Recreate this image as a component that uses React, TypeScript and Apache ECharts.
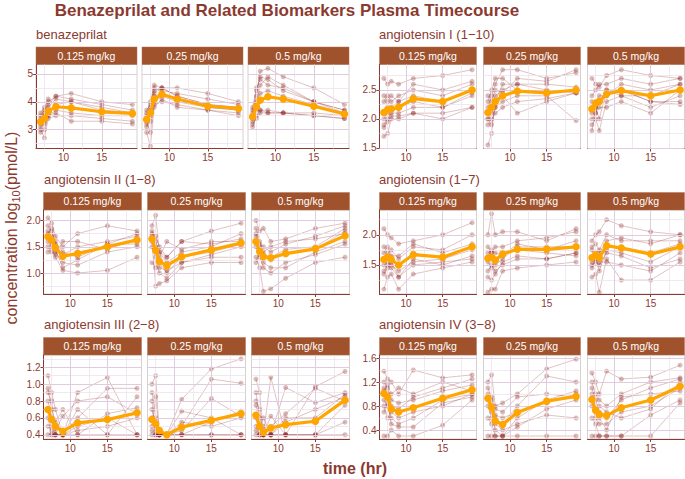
import React, { useEffect, useRef } from "react";
import * as echarts from "echarts";

// ---------- data ----------
const TIMES = [7, 7.5, 8, 9, 11, 15, 19];
const DOSES = ["0.125 mg/kg", "0.25 mg/kg", "0.5 mg/kg"];
const X_TICKS = [10, 15];
const X_MINOR = [7.5, 12.5, 17.5];
const X_MIN = 6.4;
const X_MAX = 19.6;

const TITLE = "Benazeprilat and Related Biomarkers Plasma Timecourse";
const X_LABEL = "time (hr)";

// benazeprilat
const benaz_yTicks = [3, 4, 5];
const benaz_yMinor = [2.5, 3.5, 4.5];
const benaz_mean_0125 = [3.28, 3.4, 3.66, 3.82, 3.78, 3.64, 3.58];
const benaz_mean_025 = [3.36, 3.6, 4.1, 4.27, 4.1, 3.84, 3.76];
const benaz_mean_05 = [3.46, 3.82, 4.06, 4.18, 4.1, 3.84, 3.56];
const benaz_ind_0125 = [
  [3.1, 3.2, 3.5, 3.7, 3.6, 3.5, 3.5],
  [3.4, 3.6, 3.9, 4.2, 4.3, 4.0, 3.9],
  [3.3, 3.5, 3.8, 4.1, 4.0, 3.8, 3.6],
  [3.0, 2.7, 3.4, 3.5, 3.5, 3.4, 3.3],
  [3.5, 3.7, 4.0, 4.2, 4.1, 3.9, 3.7],
  [3.2, 3.3, 3.6, 3.8, 3.8, 3.6, 3.6],
  [2.9, 3.0, 3.5, 3.6, 3.3, 3.3, 3.2],
  [3.6, 3.8, 4.1, 3.9, 4.0, 3.7, 3.6],
];
const benaz_ind_025 = [
  [3.1, 3.5, 4.3, 4.5, 4.2, 3.9, 3.8],
  [3.5, 3.8, 4.5, 4.4, 4.3, 4.1, 3.9],
  [3.3, 2.9, 4.0, 4.2, 4.0, 3.8, 3.7],
  [2.9, 2.4, 3.8, 4.1, 3.8, 3.7, 3.6],
  [3.6, 4.0, 4.6, 4.5, 4.5, 4.3, 4.0],
  [3.4, 3.7, 4.2, 4.3, 4.1, 3.8, 3.7],
  [3.2, 3.3, 3.9, 4.0, 3.9, 3.7, 3.5],
  [3.7, 3.9, 4.4, 4.5, 4.2, 3.9, 3.8],
];
const benaz_ind_05 = [
  [3.1, 3.5, 3.7, 3.6, 3.6, 3.5, 3.4],
  [3.6, 4.2, 5.1, 5.2, 4.9, 4.5, 3.9],
  [3.4, 3.9, 4.6, 4.9, 4.6, 4.0, 3.6],
  [3.8, 4.5, 4.8, 4.6, 4.5, 4.0, 3.7],
  [3.2, 3.4, 3.6, 3.6, 3.6, 3.5, 3.4],
  [3.5, 4.0, 4.3, 4.4, 4.2, 3.9, 3.6],
  [3.3, 3.7, 3.7, 3.7, 3.6, 3.6, 3.5],
  [3.7, 4.4, 4.9, 4.8, 4.4, 4.0, 3.7],
];

// angiotensin I (1-10)
const ang1_yTicks = [1.5, 2.0, 2.5];
const ang1_yMinor = [1.75, 2.25, 2.75];
const ang1_mean_0125 = [2.11, 2.16, 2.17, 2.2, 2.35, 2.3, 2.5];
const ang1_mean_025 = [2.11, 2.2, 2.3, 2.4, 2.48, 2.45, 2.5];
const ang1_mean_05 = [2.17, 2.27, 2.3, 2.43, 2.49, 2.4, 2.5];
const ang1_ind_0125 = [
  [2.7, 2.6, 2.65, 2.6, 2.7, 2.75, 2.85],
  [1.7, 1.75, 2.0, 2.0, 2.1, 2.0, 2.2],
  [2.1, 2.2, 2.2, 2.3, 2.4, 2.3, 2.5],
  [1.9, 2.0, 2.1, 2.1, 2.2, 2.2, 2.4],
  [2.3, 2.4, 2.3, 2.4, 2.5, 2.4, 2.6],
  [2.0, 2.1, 2.15, 2.2, 2.3, 2.2, 2.45],
  [2.4, 2.3, 2.4, 2.3, 2.6, 2.5, 2.65],
  [1.85, 1.95, 2.05, 2.05, 2.1, 2.1, 2.2],
];
const ang1_ind_025 = [
  [1.55, 1.75, 2.3, 2.6, 2.6, 2.5, 2.45],
  [2.2, 2.4, 2.6, 2.85, 2.85, 2.7, 2.8],
  [2.0, 2.1, 2.2, 2.3, 2.4, 2.4, 1.97],
  [2.1, 2.2, 2.4, 2.5, 2.6, 2.6, 2.55],
  [1.9, 2.0, 2.1, 2.2, 2.3, 2.35, 2.45],
  [2.3, 2.5, 2.7, 2.7, 2.5, 2.45, 2.5],
  [2.0, 1.9, 2.2, 2.4, 2.1, 2.3, 2.45],
  [2.4, 2.3, 2.5, 2.45, 2.7, 2.65, 2.85],
];
const ang1_ind_05 = [
  [2.7, 2.6, 2.55, 2.75, 2.85, 2.75, 2.7],
  [1.9, 2.0, 1.8, 2.3, 2.4, 2.2, 2.4],
  [2.2, 2.3, 2.4, 2.4, 2.6, 2.5, 2.6],
  [2.1, 2.2, 2.0, 2.5, 2.5, 2.3, 2.25],
  [2.4, 2.5, 2.6, 2.6, 2.7, 2.6, 2.7],
  [2.0, 2.1, 2.2, 2.2, 2.3, 2.1, 2.5],
  [2.3, 2.2, 2.3, 2.5, 2.4, 2.4, 2.6],
  [1.8, 2.1, 2.3, 2.4, 2.5, 2.3, 2.3],
];

// angiotensin II (1-8)
const ang2_yTicks = [1.0, 1.5, 2.0];
const ang2_yMinor = [0.75, 1.25, 1.75];
const ang2_mean_0125 = [1.69, 1.63, 1.48, 1.32, 1.37, 1.5, 1.63];
const ang2_mean_025 = [1.65, 1.43, 1.22, 1.14, 1.31, 1.44, 1.57];
const ang2_mean_05 = [1.6, 1.41, 1.31, 1.29, 1.37, 1.46, 1.71];
const ang2_ind_0125 = [
  [2.05, 1.95, 1.7, 1.5, 1.75, 1.9, 1.8],
  [1.4, 1.5, 1.3, 1.05, 1.0, 1.05, 1.3],
  [1.7, 1.6, 1.5, 1.3, 1.4, 1.5, 1.6],
  [1.8, 1.7, 1.6, 1.4, 1.3, 1.55, 1.75],
  [1.6, 1.55, 1.4, 1.2, 1.15, 1.4, 1.5],
  [1.9, 1.8, 1.55, 1.35, 1.5, 1.6, 1.7],
  [1.5, 1.4, 1.35, 1.6, 1.6, 1.45, 1.65],
  [1.75, 1.85, 1.45, 1.1, 1.25, 1.55, 1.55],
];
const ang2_ind_025 = [
  [1.9, 2.1, 1.4, 1.3, 1.6, 1.8, 1.95],
  [1.6, 0.75, 0.8, 0.85, 1.1, 1.2, 1.2],
  [1.7, 1.5, 1.2, 1.0, 1.3, 1.4, 1.55],
  [1.5, 1.3, 1.0, 0.9, 1.2, 1.3, 1.3],
  [1.8, 1.6, 1.4, 1.2, 1.4, 1.5, 1.75],
  [1.2, 1.1, 1.3, 1.6, 1.45, 1.6, 1.6],
  [1.65, 1.45, 1.1, 1.05, 1.2, 1.35, 1.5],
  [1.75, 1.7, 1.5, 1.3, 1.6, 1.55, 1.65],
];
const ang2_ind_05 = [
  [2.0, 1.8, 1.85, 1.6, 1.65, 1.85, 1.95],
  [1.3, 1.1, 0.65, 0.7, 0.9, 1.2, 1.3],
  [1.6, 1.4, 1.3, 1.25, 1.35, 1.45, 1.8],
  [1.7, 1.5, 1.2, 1.1, 1.1, 1.4, 1.6],
  [1.5, 1.3, 1.4, 1.5, 1.6, 1.65, 1.75],
  [1.85, 1.6, 1.35, 1.3, 1.45, 1.5, 1.85],
  [1.2, 1.35, 1.1, 1.0, 1.2, 1.35, 1.55],
  [1.75, 1.55, 1.5, 1.4, 1.55, 1.7, 1.9],
];

// angiotensin (1-7)
const ang17_yTicks = [1.5, 2.0];
const ang17_yMinor = [1.25, 1.75, 2.25];
const ang17_mean_0125 = [1.59, 1.63, 1.59, 1.5, 1.67, 1.63, 1.8];
const ang17_mean_025 = [1.61, 1.63, 1.58, 1.68, 1.76, 1.76, 1.8];
const ang17_mean_05 = [1.62, 1.67, 1.62, 1.82, 1.78, 1.68, 1.8];
const ang17_ind_0125 = [
  [2.1, 2.0, 1.95, 1.85, 1.9, 2.0, 2.2],
  [1.1, 1.3, 1.35, 1.1, 1.35, 1.45, 1.55],
  [1.6, 1.65, 1.6, 1.5, 1.7, 1.6, 1.8],
  [1.4, 1.5, 1.45, 1.3, 1.6, 1.5, 1.65],
  [1.8, 1.7, 1.75, 1.6, 1.8, 1.75, 2.0],
  [1.5, 1.55, 1.5, 1.4, 1.55, 1.6, 1.75],
  [1.7, 1.8, 1.65, 1.65, 1.85, 1.7, 1.85],
  [1.35, 1.45, 1.55, 1.3, 1.5, 1.55, 1.6],
];
const ang17_ind_025 = [
  [2.0, 2.35, 2.0, 2.05, 2.05, 1.9, 2.1],
  [1.05, 1.1, 1.1, 1.4, 1.45, 1.5, 1.55],
  [1.6, 1.7, 1.5, 1.6, 1.8, 1.8, 1.8],
  [1.4, 1.5, 1.4, 1.5, 1.6, 1.6, 1.7],
  [1.8, 1.7, 1.8, 1.8, 1.9, 1.95, 2.05],
  [1.55, 1.45, 1.6, 1.7, 1.75, 1.7, 1.65],
  [1.7, 1.75, 1.7, 1.65, 1.85, 1.75, 1.9],
  [1.3, 1.25, 1.35, 1.55, 1.65, 1.6, 1.7],
];
const ang17_ind_05 = [
  [1.9, 2.0, 2.05, 2.25, 2.15, 2.05, 2.0],
  [1.3, 1.35, 1.05, 1.6, 1.25, 1.25, 1.55],
  [1.6, 1.7, 1.6, 1.8, 1.8, 1.7, 1.85],
  [1.5, 1.55, 1.5, 1.7, 1.65, 1.45, 1.6],
  [1.8, 1.85, 1.75, 2.0, 1.9, 1.9, 1.9],
  [1.45, 1.6, 1.55, 1.55, 1.5, 1.4, 1.7],
  [1.75, 1.6, 1.7, 1.9, 1.95, 1.85, 2.0],
  [1.55, 1.65, 1.4, 1.75, 1.7, 1.55, 1.8],
];

// angiotensin III (2-8)
const ang3_yTicks = [0.4, 0.6, 0.8, 1.0, 1.2];
const ang3_yMinor = [0.5, 0.7, 0.9, 1.1, 1.3];
const ang3_mean_0125 = [0.7, 0.58, 0.5, 0.44, 0.54, 0.58, 0.66];
const ang3_mean_025 = [0.58, 0.53, 0.45, 0.4, 0.49, 0.57, 0.65];
const ang3_mean_05 = [0.63, 0.5, 0.43, 0.48, 0.52, 0.56, 0.81];
const ang3_ind_0125 = [
  [1.1, 0.9, 0.7, 0.4, 0.9, 1.08, 0.4],
  [0.4, 0.4, 0.4, 0.4, 0.4, 0.4, 0.4],
  [0.9, 0.8, 0.4, 0.4, 0.6, 0.95, 0.95],
  [0.8, 0.6, 0.5, 0.4, 0.7, 0.4, 0.85],
  [0.95, 0.7, 0.55, 0.7, 0.4, 0.65, 0.72],
  [0.6, 0.4, 0.4, 0.4, 0.5, 0.6, 0.4],
  [0.7, 0.5, 0.45, 0.62, 0.8, 0.85, 0.65],
  [0.5, 0.45, 0.4, 0.4, 0.45, 0.5, 0.6],
];
const ang3_ind_025 = [
  [1.0, 1.1, 0.4, 0.4, 0.82, 1.18, 1.3],
  [0.4, 0.4, 0.4, 0.4, 0.4, 0.4, 0.4],
  [0.9, 0.6, 0.45, 0.4, 0.5, 1.06, 1.01],
  [0.6, 0.5, 0.4, 0.4, 0.68, 0.6, 0.4],
  [0.7, 0.45, 0.4, 0.4, 0.4, 0.55, 0.68],
  [0.5, 0.85, 0.4, 0.4, 0.45, 0.83, 0.62],
  [0.8, 0.4, 0.4, 0.4, 0.55, 0.5, 0.6],
  [0.45, 0.4, 0.4, 0.4, 0.4, 0.4, 0.4],
];
const ang3_ind_05 = [
  [1.06, 0.9, 0.4, 1.08, 0.4, 0.97, 1.15],
  [0.4, 0.4, 0.4, 0.4, 0.4, 0.4, 0.4],
  [0.9, 0.6, 0.4, 0.4, 0.96, 0.78, 0.9],
  [0.75, 0.5, 0.6, 0.4, 0.55, 0.7, 0.85],
  [0.6, 0.4, 0.4, 0.62, 0.4, 0.4, 0.55],
  [0.8, 0.7, 0.4, 0.5, 0.65, 0.95, 0.8],
  [0.5, 0.4, 0.5, 0.4, 0.4, 0.4, 0.75],
  [0.45, 0.4, 0.4, 0.4, 0.6, 0.6, 0.88],
];

// angiotensin IV (3-8)
const ang4_yTicks = [0.4, 0.8, 1.2, 1.6];
const ang4_yMinor = [0.6, 1.0, 1.4];
const ang4_mean_0125 = [1.01, 0.95, 0.75, 0.7, 0.77, 0.93, 1.07];
const ang4_mean_025 = [0.93, 0.78, 0.55, 0.49, 0.69, 0.88, 0.96];
const ang4_mean_05 = [0.91, 0.73, 0.66, 0.64, 0.77, 0.9, 1.13];
const ang4_ind_0125 = [
  [1.38, 1.25, 1.2, 1.0, 1.4, 1.27, 1.32],
  [0.3, 0.3, 0.4, 0.3, 0.3, 0.48, 0.9],
  [1.1, 1.0, 0.8, 0.75, 0.95, 1.1, 1.25],
  [0.9, 0.8, 0.6, 0.5, 0.6, 0.9, 1.0],
  [1.2, 1.1, 0.9, 0.85, 0.9, 1.05, 1.15],
  [0.7, 0.85, 0.5, 0.45, 0.45, 0.85, 0.95],
  [1.05, 1.15, 1.0, 1.1, 1.0, 1.2, 1.05],
  [0.8, 0.6, 0.7, 0.6, 0.7, 0.8, 1.0],
];
const ang4_ind_025 = [
  [1.2, 1.32, 0.8, 0.85, 1.0, 1.42, 1.58],
  [0.3, 0.3, 0.3, 0.3, 0.3, 0.3, 0.3],
  [1.0, 0.9, 0.6, 0.5, 0.8, 1.3, 1.2],
  [0.9, 0.7, 0.4, 0.3, 0.6, 0.9, 1.05],
  [0.8, 0.6, 0.5, 0.4, 0.5, 0.65, 0.6],
  [1.1, 0.95, 0.75, 0.7, 0.95, 1.0, 0.95],
  [0.6, 0.5, 0.3, 0.3, 0.45, 0.75, 0.9],
  [0.95, 0.8, 0.65, 0.6, 0.7, 0.85, 1.0],
];
const ang4_ind_05 = [
  [1.35, 1.2, 1.0, 1.38, 1.25, 1.28, 1.48],
  [0.3, 0.3, 0.3, 0.3, 0.3, 0.3, 0.85],
  [1.1, 0.9, 0.7, 0.6, 0.9, 1.1, 1.25],
  [0.9, 0.6, 0.5, 0.5, 0.7, 0.8, 1.1],
  [0.8, 0.7, 0.6, 0.4, 0.95, 1.0, 1.05],
  [1.0, 0.75, 0.8, 0.7, 0.6, 0.75, 1.2],
  [0.6, 0.5, 0.3, 0.3, 0.3, 0.65, 0.9],
  [1.2, 1.0, 0.9, 0.8, 1.0, 1.2, 1.27],
];

const PANELS = [
  { name: "benazeprilat", yMin: 2.32, yMax: 5.34, yTicks: benaz_yTicks, yMinor: benaz_yMinor,
    ind: [benaz_ind_0125, benaz_ind_025, benaz_ind_05], mean: [benaz_mean_0125, benaz_mean_025, benaz_mean_05] },
  { name: "angiotensin I (1\u221210)", yMin: 1.49, yMax: 2.94, yTicks: ang1_yTicks, yMinor: ang1_yMinor,
    ind: [ang1_ind_0125, ang1_ind_025, ang1_ind_05], mean: [ang1_mean_0125, ang1_mean_025, ang1_mean_05] },
  { name: "angiotensin II (1\u22128)", yMin: 0.6, yMax: 2.2, yTicks: ang2_yTicks, yMinor: ang2_yMinor,
    ind: [ang2_ind_0125, ang2_ind_025, ang2_ind_05], mean: [ang2_mean_0125, ang2_mean_025, ang2_mean_05] },
  { name: "angiotensin (1\u22127)", yMin: 1.02, yMax: 2.41, yTicks: ang17_yTicks, yMinor: ang17_yMinor,
    ind: [ang17_ind_0125, ang17_ind_025, ang17_ind_05], mean: [ang17_mean_0125, ang17_mean_025, ang17_mean_05] },
  { name: "angiotensin III (2\u22128)", yMin: 0.35, yMax: 1.345, yTicks: ang3_yTicks, yMinor: ang3_yMinor,
    ind: [ang3_ind_0125, ang3_ind_025, ang3_ind_05], mean: [ang3_mean_0125, ang3_mean_025, ang3_mean_05] },
  { name: "angiotensin IV (3\u22128)", yMin: 0.25, yMax: 1.65, yTicks: ang4_yTicks, yMinor: ang4_yMinor,
    ind: [ang4_ind_0125, ang4_ind_025, ang4_ind_05], mean: [ang4_mean_0125, ang4_mean_025, ang4_mean_05] },
];

// ---------- styling / layout ----------
const BROWN = "#8B3A30";
const STRIP = "#A0522D";
const IND = "rgba(139,30,30,0.3)";
const MEAN = "#FFA500";
const GRID_MAJOR = "#DFCCDF";
const GRID_MINOR = "#EEE3EE";
const FONT = "Liberation Sans, Arial, sans-serif";

const STRIP_TOPS = [47, 192.5, 337.5];
const STRIP_H = 17.5;
const PLOT_H = 84;
const BLOCKS = {
  leftRow1: { lefts: [36, 142, 248], width: 101, titleX: 36 },
  left: { lefts: [43.5, 147.5, 251.5], width: 98, titleX: 44 },
  right: { lefts: [379.5, 483.5, 587.5], width: 97, titleX: 379 },
};

function buildOption() {
  const grid: any[] = [];
  const xAxis: any[] = [];
  const yAxis: any[] = [];
  const series: any[] = [];
  const graphic: any[] = [];

  graphic.push({
    type: "text", x: 287, y: 10,
    style: { text: TITLE, font: `bold 17px ${FONT}`, fill: BROWN, textAlign: "center", textVerticalAlign: "middle" },
  });
  graphic.push({
    type: "text", x: 355, y: 468,
    style: { text: X_LABEL, font: `bold 16px ${FONT}`, fill: BROWN, textAlign: "center", textVerticalAlign: "middle" },
  });
  graphic.push({
    type: "text", x: 11, y: 228, rotation: Math.PI / 2,
    style: {
      text: "{a|concentration log}{b|10}{a|(pmol/L)}",
      textAlign: "center", textVerticalAlign: "middle",
      rich: {
        a: { fontSize: 16, fontFamily: FONT, fill: BROWN, lineHeight: 20, verticalAlign: "middle" },
        b: { fontSize: 11, fontFamily: FONT, fill: BROWN, lineHeight: 20, verticalAlign: "bottom", padding: [6, 0, 0, 0] },
      },
    },
  });

  PANELS.forEach((p, pi) => {
    const row = Math.floor(pi / 2);
    const col = pi % 2;
    const block = col === 1 ? BLOCKS.right : row === 0 ? BLOCKS.leftRow1 : BLOCKS.left;
    const stripTop = STRIP_TOPS[row];
    const plotTop = stripTop + STRIP_H;

    graphic.push({
      type: "text", x: block.titleX, y: stripTop - 13,
      style: { text: p.name, font: `13px ${FONT}`, fill: BROWN, textAlign: "left", textVerticalAlign: "middle" },
    });

    for (let d = 0; d < 3; d++) {
      const gi = grid.length;
      const left = block.lefts[d];
      const w = block.width;
      graphic.push({
        type: "rect", shape: { x: left, y: stripTop, width: w, height: STRIP_H },
        style: { fill: STRIP, stroke: "#B07050", lineWidth: 0.5 },
      });
      graphic.push({
        type: "text", x: left + w / 2, y: stripTop + STRIP_H / 2,
        style: { text: DOSES[d], font: `10.5px ${FONT}`, fill: "#ffffff", textAlign: "center", textVerticalAlign: "middle" },
      });

      grid.push({
        left, top: plotTop, width: w, height: PLOT_H,
        show: true, borderColor: "#D8D0D0", borderWidth: 1, backgroundColor: "#ffffff",
      });
      xAxis.push({
        type: "value", gridIndex: gi, min: X_MIN, max: X_MAX,
        splitLine: { show: false },
        axisLine: { show: true, onZero: false, lineStyle: { color: BROWN, width: 1 } },
        axisTick: { show: true, customValues: X_TICKS, length: 3, lineStyle: { color: BROWN } },
        axisLabel: { show: true, customValues: X_TICKS, color: BROWN, fontSize: 10, margin: 4, fontFamily: FONT },
      });
      yAxis.push({
        type: "value", gridIndex: gi, min: p.yMin, max: p.yMax,
        splitLine: { show: false },
        axisLine: { show: d === 0, onZero: false, lineStyle: { color: BROWN, width: 1 } },
        axisTick: { show: d === 0, customValues: p.yTicks, length: 3, lineStyle: { color: BROWN } },
        axisLabel: {
          show: d === 0, customValues: p.yTicks, color: BROWN, fontSize: 10, margin: 3, fontFamily: FONT,
          formatter: (v: number) => (pi === 0 ? String(v) : v.toFixed(1)),
        },
      });

      const lines: any[] = [];
      X_MINOR.forEach((v) => lines.push({ xAxis: v, lineStyle: { color: GRID_MINOR, width: 0.8, type: "solid" } }));
      p.yMinor.forEach((v) => lines.push({ yAxis: v, lineStyle: { color: GRID_MINOR, width: 0.8, type: "solid" } }));
      X_TICKS.forEach((v) => lines.push({ xAxis: v, lineStyle: { color: GRID_MAJOR, width: 1, type: "solid" } }));
      p.yTicks.forEach((v) => lines.push({ yAxis: v, lineStyle: { color: GRID_MAJOR, width: 1, type: "solid" } }));
      series.push({
        type: "line", xAxisIndex: gi, yAxisIndex: gi, data: [], silent: true, z: 1,
        markLine: { silent: true, symbol: "none", label: { show: false }, animation: false, data: lines },
      });

      p.ind[d].forEach((subj: number[]) => {
        series.push({
          type: "line", xAxisIndex: gi, yAxisIndex: gi, z: 2, silent: true,
          data: TIMES.map((t, i) => [t, subj[i]]),
          symbol: "circle", symbolSize: 5, showSymbol: true, showAllSymbol: true,
          lineStyle: { color: IND, width: 0.9 },
          itemStyle: { color: IND },
          emphasis: { disabled: true },
        });
      });

      series.push({
        type: "line", xAxisIndex: gi, yAxisIndex: gi, z: 5, silent: true,
        data: TIMES.map((t, i) => [t, p.mean[d][i]]),
        symbol: "circle", symbolSize: 7.5, showSymbol: true, showAllSymbol: true,
        lineStyle: { color: MEAN, width: 3.2 },
        itemStyle: { color: MEAN },
        emphasis: { disabled: true },
      });
    }
  });

  return {
    animation: false,
    backgroundColor: "#ffffff",
    textStyle: { fontFamily: FONT },
    grid, xAxis, yAxis, series, graphic,
  };
}

export default function App() {
  const ref = useRef<HTMLDivElement>(null);
  useEffect(() => {
    document.body.style.margin = "0";
    if (!ref.current) return;
    const chart = echarts.init(ref.current, undefined, { renderer: "svg" });
    chart.setOption(buildOption() as any);
    return () => chart.dispose();
  }, []);
  return <div ref={ref} style={{ width: 685, height: 479, position: "absolute", left: 0, top: 0 }} />;
}
